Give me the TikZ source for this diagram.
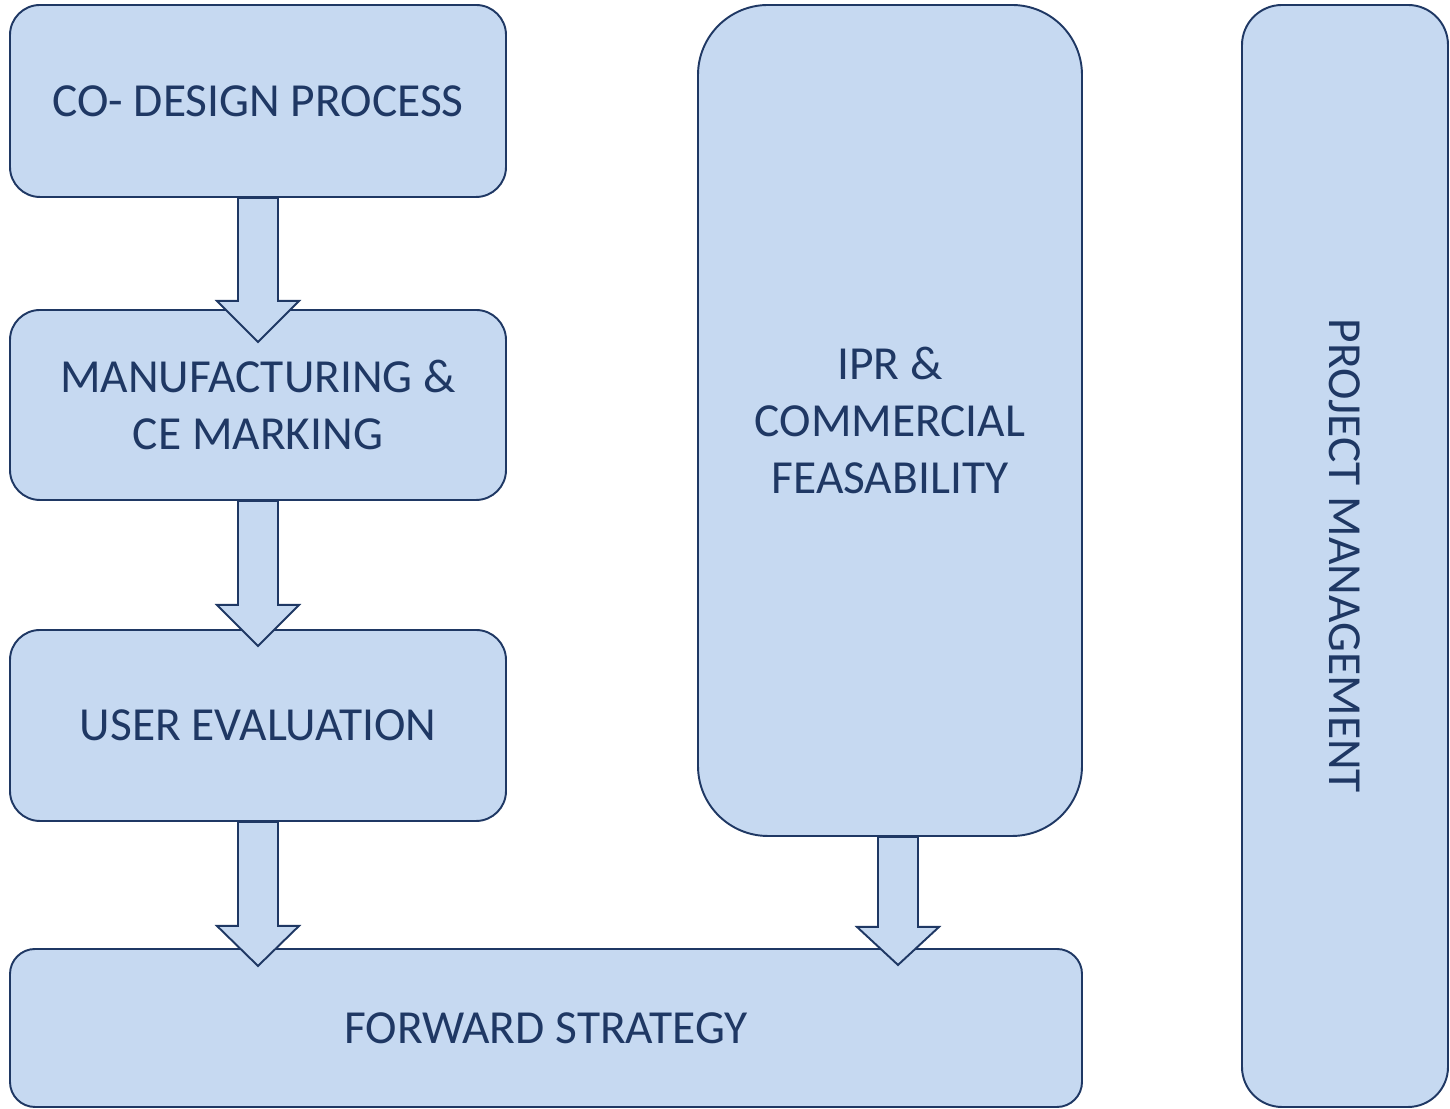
\documentclass[tikz,border=0pt]{standalone}
\usepackage{fontspec}
\setmainfont{Carlito}
\usetikzlibrary{positioning}
\definecolor{boxfill}{HTML}{C6D9F1}
\definecolor{boxline}{HTML}{1F3864}
\tikzset{
  stage/.style={draw=boxline, fill=boxfill, line width=1.1pt, rounded corners=0.6cm,
    text=boxline, align=center, font=\fontsize{27}{32.5}\selectfont},
  flowarrow/.style={draw=boxline, fill=boxfill, line width=1.1pt, line join=miter}
}
\newcommand{\blockarrow}[3]{%
  \draw[flowarrow] (#1) ++(-0.4,0) -- ++(0,-#2) -- ++(-0.42,0) -- ++(0.82,-#3)
    -- ++(0.82,#3) -- ++(-0.42,0) -- ++(0,#2) -- cycle;}

\begin{document}
\begin{tikzpicture}
  \useasboundingbox (0,0) rectangle (29,22.18);
  \node[stage, minimum width=9.92cm, minimum height=3.84cm] (codesign) at (5.16,20.16) {CO- DESIGN PROCESS};
  \node[stage, minimum width=9.92cm, minimum height=3.8cm] (manuf) at (5.16,14.08) {MANUFACTURING \&\\CE MARKING};
  \node[stage, minimum width=9.92cm, minimum height=3.82cm] (usereval) at (5.16,7.67) {USER EVALUATION};
  \node[stage, minimum width=21.44cm, minimum height=3.16cm, rounded corners=0.5cm] (forward) at (10.92,1.62) {FORWARD STRATEGY};
  \node[stage, minimum width=7.68cm, minimum height=16.62cm, rounded corners=1.4cm] (ipr) at (17.8,13.77) {IPR \&\\COMMERCIAL\\FEASABILITY};
  \node[stage, minimum width=22.04cm, minimum height=4.12cm, rounded corners=0.8cm, rotate=-90] (projmgmt) at (26.9,11.06) {PROJECT MANAGEMENT};
  \blockarrow{codesign.south}{2.06}{0.82}
  \blockarrow{manuf.south}{2.08}{0.82}
  \blockarrow{usereval.south}{2.08}{0.8}
  \blockarrow{[xshift=0.16cm]ipr.south}{1.8}{0.76}
\end{tikzpicture}
\end{document}
